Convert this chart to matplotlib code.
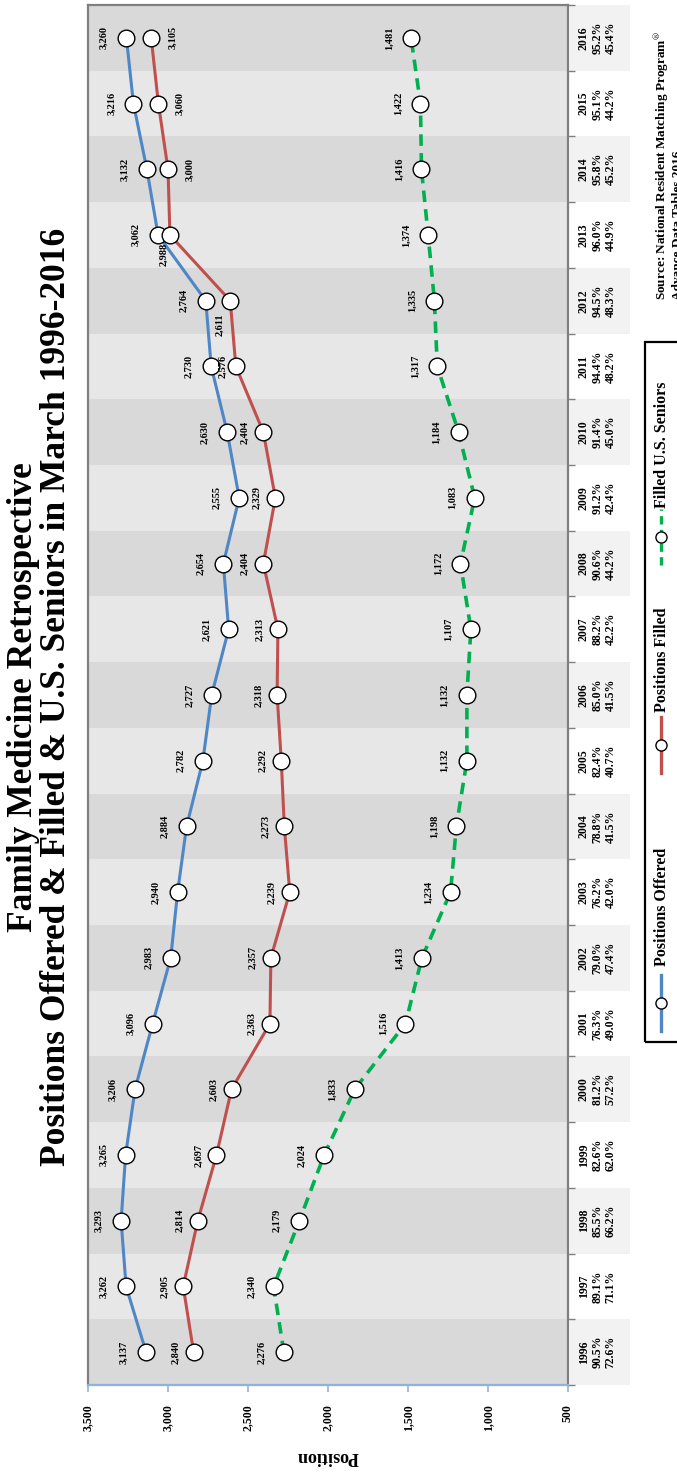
import matplotlib
matplotlib.use("Agg")
import matplotlib.pyplot as plt
from matplotlib.lines import Line2D
from matplotlib.patches import Rectangle

plt.rcParams["mathtext.fontset"] = "stix"

# ---------------- data ----------------
years = list(range(1996, 2017))
offered = [3137, 3262, 3293, 3265, 3206, 3096, 2983, 2940, 2884, 2782, 2727,
           2621, 2654, 2555, 2630, 2730, 2764, 3062, 3132, 3216, 3260]
filled = [2840, 2905, 2814, 2697, 2603, 2363, 2357, 2239, 2273, 2292, 2318,
          2313, 2404, 2329, 2404, 2576, 2611, 2988, 3000, 3060, 3105]
seniors = [2276, 2340, 2179, 2024, 1833, 1516, 1413, 1234, 1198, 1132, 1132,
           1107, 1172, 1083, 1184, 1317, 1335, 1374, 1416, 1422, 1481]
pct_filled = ["90.5%", "89.1%", "85.5%", "82.6%", "81.2%", "76.3%", "79.0%",
              "76.2%", "78.8%", "82.4%", "85.0%", "88.2%", "90.6%", "91.2%",
              "91.4%", "94.4%", "94.5%", "96.0%", "95.8%", "95.1%", "95.2%"]
pct_seniors = ["72.6%", "71.1%", "66.2%", "62.0%", "57.2%", "49.0%", "47.4%",
               "42.0%", "41.5%", "40.7%", "41.5%", "42.2%", "44.2%", "42.4%",
               "45.0%", "48.2%", "48.3%", "44.9%", "45.2%", "44.2%", "45.4%"]
x_ticks = [500, 1000, 1500, 2000, 2500, 3000, 3500]
series_names = ["Positions Offered", "Positions Filled", "Filled U.S. Seniors"]
title_lines = ["Family Medicine Retrospective",
               "Positions Offered & Filled & U.S. Seniors in March 1996-2016"]
axis_label = "Position"
source_lines = [r"Source: National Resident Matching Program$^{\circledR}$",
                "Advance Data Tables 2016"]

# ---------------- style ----------------
SERIF = ["Liberation Serif", "DejaVu Serif"]
BLUE = "#4f86c6"
RED = "#c0504d"
GREEN = "#00b050"
DARK = "#d9d9d9"
LIGHT = "#e7e7e7"
FRAME = "#7f7f7f"
AXBLUE = "#8db3e2"

W, H = 677, 1473
fig = plt.figure(figsize=(W / 100, H / 100), dpi=100)
fig.patch.set_facecolor("white")


def fx(px):
    return px / W


def fy(py):
    return 1 - py / H


L, R, T, B = 88, 568, 5, 1385
ax = fig.add_axes([fx(L), fy(B), (R - L) / W, (B - T) / H])
ax.set_zorder(2)
ax.set_xlim(3500, 500)
ax.set_ylim(years[0] - 0.5, years[-1] + 0.5)

for i, yr in enumerate(years):
    ax.axhspan(yr - 0.5, yr + 0.5, color=DARK if i % 2 == 0 else LIGHT, lw=0, zorder=0)

# table axes with year / percentages
tax = fig.add_axes([fx(R), fy(B), (630 - R) / W, (B - T) / H])
tax.set_zorder(1)
tax.set_xlim(0, 1)
tax.set_ylim(years[0] - 0.5, years[-1] + 0.5)
tax.axis("off")
for i, yr in enumerate(years):
    tax.axhspan(yr - 0.5, yr + 0.5, xmin=0.03, color="#f2f2f2" if i % 2 == 0 else "white", lw=0)
    tax.text(0.47, yr, f"{yr}\n{pct_filled[i]}\n{pct_seniors[i]}", rotation=90,
             ha="center", va="center", fontsize=8.5, fontweight="bold",
             family=SERIF, linespacing=1.15)

# lines
mk = dict(marker="o", ms=12, mfc="white", mec="black", mew=1.0)
ax.plot(offered, years, color=BLUE, lw=2.2, zorder=3, **mk)
ax.plot(filled, years, color=RED, lw=2.2, zorder=3, **mk)
ax.plot(seniors, years, color=GREEN, lw=2.6, ls=(0, (3.2, 2.0)), zorder=3, **mk)

# data labels (offsets in pixels: dx right, dy down in the picture)
PT = 72 / 100


def lab(v, yr, dx, dy=0):
    ax.annotate(f"{v:,}", xy=(v, yr), xytext=(dx * PT, -dy * PT),
                textcoords="offset points", rotation=90, ha="center", va="center",
                fontsize=7.5, fontweight="bold", family=SERIF, zorder=5)


filled_pos = {2011: (-13, 0), 2012: (-10, 24), 2013: (-6, 19),
              2014: (22, 0), 2015: (22, 0), 2016: (22, 0)}
for i, yr in enumerate(years):
    lab(offered[i], yr, -22)
    dx, dy = filled_pos.get(yr, (-18, 0))
    lab(filled[i], yr, dx, dy)
    lab(seniors[i], yr, -22)

# spines and ticks
for s in ("left", "top", "right"):
    ax.spines[s].set_color(FRAME)
    ax.spines[s].set_linewidth(1.6)
ax.spines["bottom"].set_color(AXBLUE)
ax.spines["bottom"].set_linewidth(1.6)
ax.set_xticks(x_ticks)
ax.set_xticklabels([f"{t:,}" for t in x_ticks], rotation=90, fontsize=8.5,
                   fontweight="bold", family=SERIF)
ax.tick_params(axis="x", direction="out", length=5, width=1.2, color=AXBLUE, pad=9)
ax.set_yticks([y - 0.5 for y in years] + [years[-1] + 0.5])
ax.tick_params(axis="y", left=False, right=True, labelleft=False, labelright=False,
               direction="out", length=5, width=1, color=FRAME)

fig.text(fx(328), fy(1457), axis_label, rotation=180, ha="center", va="center",
         fontsize=13, fontweight="bold", family=SERIF)

# title
fig.text(fx(24), fy(697), title_lines[0], rotation=90, ha="center", va="center",
         fontsize=25.5, fontweight="bold", family=SERIF)
fig.text(fx(57), fy(697), title_lines[1], rotation=90, ha="center", va="center",
         fontsize=25.5, fontweight="bold", family=SERIF)

# legend (drawn by hand, rotated)
fig.add_artist(Rectangle((fx(645), fy(1042)), fx(720) - fx(645), fy(342) - fy(1042),
                         transform=fig.transFigure, fill=False, ec="black", lw=1.6,
                         clip_on=False))
leg = [(series_names[0], BLUE, "-", 1003, 966),
       (series_names[1], RED, "-", 745, 712),
       (series_names[2], GREEN, (0, (2.5, 1.6)), 537, 508)]
for name, col, ls, yc, ytxt in leg:
    fig.add_artist(Line2D([fx(661)] * 3, [fy(yc + 28), fy(yc), fy(yc - 28)],
                          transform=fig.transFigure, color=col, lw=2.4, ls=ls,
                          marker="o", markevery=[1], ms=8, mfc="white",
                          mec="black", mew=1.0))
    fig.text(fx(662), fy(ytxt), name, rotation=90, ha="center", va="bottom",
             fontsize=11.5, fontweight="bold", family=SERIF)

# source
fig.text(fx(662), fy(300), source_lines[0], rotation=90, ha="center", va="bottom",
         fontsize=9.5, fontweight="bold", family=SERIF)
fig.text(fx(678), fy(300), source_lines[1], rotation=90, ha="center", va="bottom",
         fontsize=9.5, fontweight="bold", family=SERIF)

fig.savefig("out.png", dpi=100)
